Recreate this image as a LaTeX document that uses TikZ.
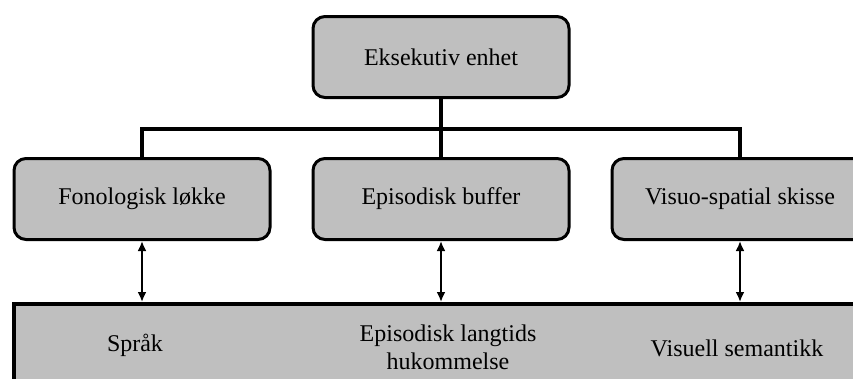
\documentclass[tikz,border=0pt]{standalone}
\usepackage{fontspec}
\setmainfont{Liberation Serif}
\usetikzlibrary{arrows.meta}

\begin{document}
\begin{tikzpicture}[level distance=142pt, sibling distance=299pt,
    every node/.style = {align=center, font=\fontsize{24}{28}\selectfont},
    unit/.style = {shape=rectangle, rounded corners=12pt, draw, line width=3pt, fill=black!25, minimum width=256pt, minimum height=81pt},
    memory/.style = {shape=rectangle, draw, line width=3.5pt, fill=black!25, minimum width=900pt, minimum height=130pt, anchor=north west},
    edge from parent/.style = {draw, line width=4.5pt},
    edge from parent path = {(\tikzparentnode.south) -- ++(0,-30pt) -| (\tikzchildnode.north)}]
    \path[use as bounding box, clip] (0,0) rectangle (853pt,-378pt);
    \node[memory] (ltm) at (12pt,-302pt) {};
    \node (lang) at (135pt,-345pt) {Språk};
    \node (episodic) at (448pt,-347pt) {Episodisk langtids\\hukommelse};
    \node (semantic) at (737pt,-348pt) {Visuell semantikk};
    \node[unit] (exec) at (441pt,-57pt) {Eksekutiv enhet}
        child{ node[unit] (phon) {Fonologisk løkke}}
        child{ node[unit] (buffer) {Episodisk buffer}}
        child{ node[unit] (visuo) {Visuo-spatial skisse}};
    \foreach \m in {phon, buffer, visuo}
        \draw[{Latex[length=10pt,width=9pt]}-{Latex[length=10pt,width=9pt]}, line width=2.5pt] (\m.south) -- (\m.south |- ltm.north);
\end{tikzpicture}
\end{document}
